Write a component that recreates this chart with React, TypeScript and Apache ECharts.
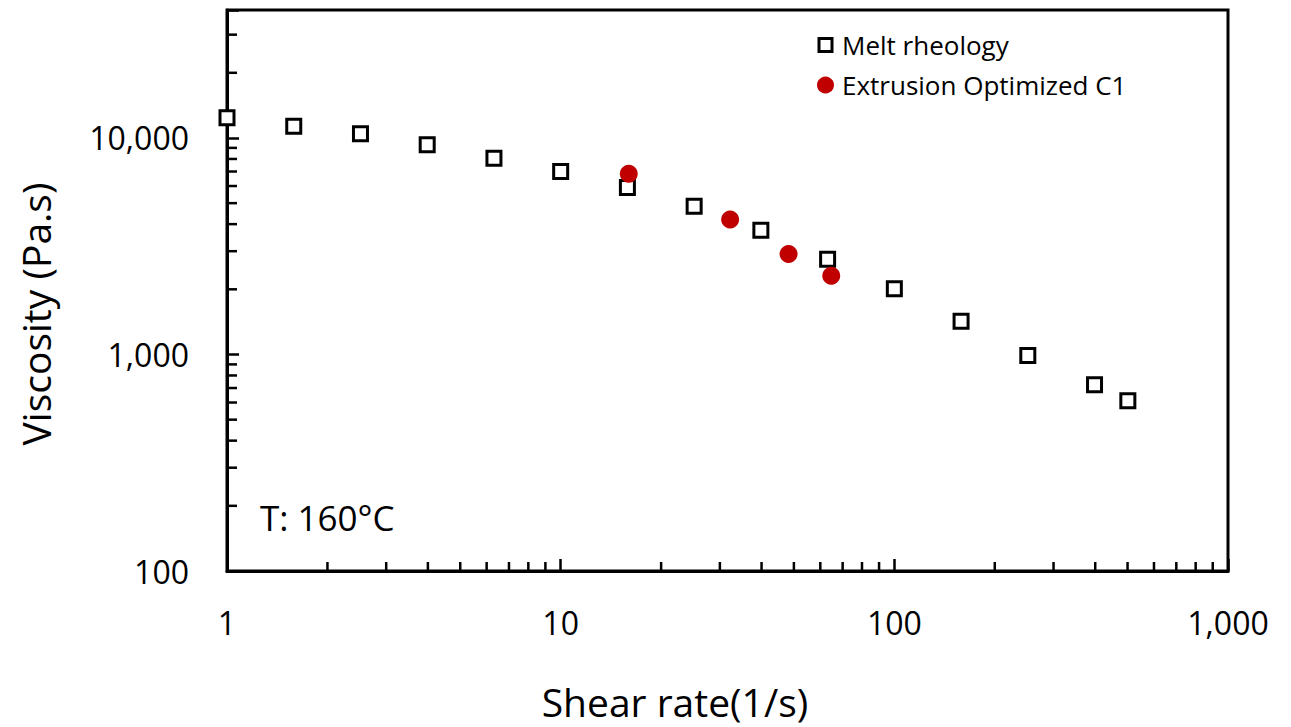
import React, { useEffect, useRef } from "react";
import * as echarts from "echarts";

const shearRate = [1, 1.585, 2.512, 3.981, 6.31, 10, 15.85, 25.12, 39.81, 63.1, 100, 158.5, 251.2, 398.1, 501];
const meltViscosity = [12400, 11340, 10450, 9300, 8070, 7000, 5910, 4840, 3750, 2750, 2010, 1425, 989, 724, 611];
const extrusionRate = [16.0, 32.2, 48.2, 64.7];
const extrusionViscosity = [6830, 4200, 2910, 2310];

const xMinorTicks = [2, 3, 4, 5, 6, 7, 8, 9, 20, 30, 40, 50, 60, 70, 80, 90, 200, 300, 400, 500, 600, 700, 800, 900];
const yMinorTicks = [200, 300, 400, 500, 600, 700, 800, 900, 2000, 3000, 4000, 5000, 6000, 7000, 8000, 9000, 20000, 30000];

const X_MIN = 1;
const X_MAX = 1000;
const Y_MIN = 100;
const Y_MAX = 39000;

const FONT = "Open Sans";

const isPow10 = (v: number) => {
  const l = Math.log10(v);
  return Math.abs(l - Math.round(l)) < 1e-6;
};
const fmt = (v: number) => (isPow10(v) ? Math.round(v).toLocaleString("en-US") : "");

export default function App() {
  const ref = useRef<HTMLDivElement>(null);
  useEffect(() => {
    document.body.style.margin = "0";
    if (!ref.current) return;
    const chart = echarts.init(ref.current, null, { renderer: "svg" });
    const tickStyle = { stroke: "#000", lineWidth: 2.5 };
    chart.setOption({
      animation: false,
      backgroundColor: "#fff",
      grid: {
        left: 227,
        top: 10,
        right: 63,
        bottom: 156,
        show: true,
        borderColor: "#000",
        borderWidth: 3,
        backgroundColor: "transparent",
      },
      legend: {
        orient: "vertical",
        left: 817,
        top: 32,
        padding: 0,
        itemWidth: 13,
        itemHeight: 13,
        itemGap: 14,
        selectedMode: false,
        textStyle: { fontSize: 26, fontFamily: FONT, color: "#000", padding: [0, 0, 0, 5] },
        data: [
          { name: "Melt rheology", icon: "rect", itemStyle: { color: "#fff", borderColor: "#000", borderWidth: 3, opacity: 1 } },
          { name: "Extrusion Optimized C1", icon: "circle", itemStyle: { color: "#C00000", borderColor: "#C00000", borderWidth: 4, opacity: 1 } },
        ],
      },
      xAxis: {
        type: "log",
        logBase: 10,
        min: X_MIN,
        max: X_MAX,
        axisLine: { lineStyle: { color: "#000", width: 3 } },
        axisTick: { inside: true, length: 12, lineStyle: { color: "#000", width: 2.5 } },
        axisLabel: { margin: 35, fontSize: 32, color: "#000", fontFamily: FONT, formatter: fmt },
        splitLine: { show: false },
      },
      yAxis: {
        type: "log",
        logBase: 10,
        min: Y_MIN,
        max: Y_MAX,
        axisLine: { lineStyle: { color: "#000", width: 3 } },
        axisTick: { inside: true, length: 12, lineStyle: { color: "#000", width: 2.5 } },
        axisLabel: { margin: 38, fontSize: 32, color: "#000", fontFamily: FONT, formatter: fmt },
        splitLine: { show: false },
      },
      graphic: [
        {
          type: "text",
          x: 260,
          y: 517,
          style: { text: "T: 160°C", fontSize: 35, fontFamily: FONT, fill: "#000", textAlign: "left", textVerticalAlign: "middle" },
        },
        {
          type: "text",
          x: 675,
          y: 701,
          style: { text: "Shear rate(1/s)", fontSize: 39, fontFamily: FONT, fill: "#000", textAlign: "center", textVerticalAlign: "middle" },
        },
        {
          type: "text",
          x: 35,
          y: 314,
          rotation: Math.PI / 2,
          style: { text: "Viscosity (Pa.s)", fontSize: 39, fontFamily: FONT, fill: "#000", textAlign: "center", textVerticalAlign: "middle" },
        },
      ],
      series: [
        {
          type: "custom",
          name: "xMinor",
          silent: true,
          z: 2,
          data: xMinorTicks.map((v) => [v, Y_MIN]),
          renderItem: (params: any, api: any) => {
            const p = api.coord([api.value(0), api.value(1)]);
            return { type: "line", shape: { x1: p[0], y1: p[1], x2: p[0], y2: p[1] - 9 }, style: tickStyle };
          },
        },
        {
          type: "custom",
          name: "yMinor",
          silent: true,
          z: 2,
          data: yMinorTicks.map((v) => [X_MIN, v]),
          renderItem: (params: any, api: any) => {
            const p = api.coord([api.value(0), api.value(1)]);
            return { type: "line", shape: { x1: p[0], y1: p[1], x2: p[0] + 10, y2: p[1] }, style: tickStyle };
          },
        },
        {
          type: "scatter",
          name: "Melt rheology",
          symbol: "rect",
          symbolSize: 14,
          z: 3,
          itemStyle: { color: "#fff", borderColor: "#000", borderWidth: 3, opacity: 1 },
          data: shearRate.map((x, i) => [x, meltViscosity[i]]),
        },
        {
          type: "scatter",
          name: "Extrusion Optimized C1",
          symbol: "circle",
          symbolSize: 18,
          z: 4,
          itemStyle: { color: "#C00000", opacity: 1 },
          data: extrusionRate.map((x, i) => [x, extrusionViscosity[i]]),
        },
      ],
    });
    return () => chart.dispose();
  }, []);
  return <div ref={ref} style={{ width: 1291, height: 727 }} />;
}
